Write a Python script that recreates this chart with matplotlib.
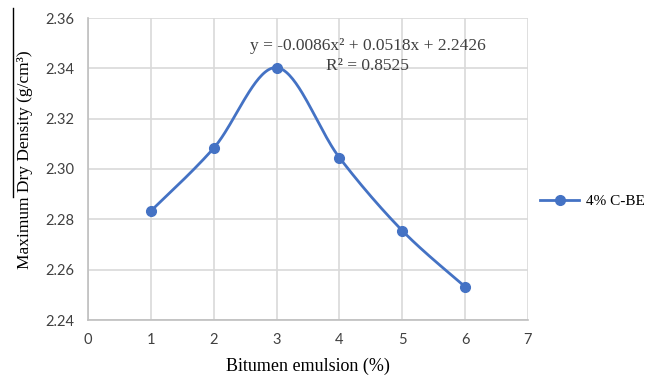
import numpy as np
import matplotlib
matplotlib.use("Agg")
import matplotlib.pyplot as plt
from matplotlib.lines import Line2D

# Data
bitumen = [1, 2, 3, 4, 5, 6]
mdd = [2.2833, 2.3083, 2.3403, 2.3045, 2.2755, 2.2532]
series_name = "4% C-BE"
equation = "y = -0.0086x² + 0.0518x + 2.2426"
r2_text = "R² = 0.8525"
x_ticks = [0, 1, 2, 3, 4, 5, 6, 7]
y_ticks = [2.24, 2.26, 2.28, 2.30, 2.32, 2.34, 2.36]

blue = "#4472C4"
serif = ["Liberation Serif", "DejaVu Serif"]
tickfont = ["Lato", "DejaVu Sans"]

def smooth(xs, ys, n=40):
    # Excel-like smoothed line (Catmull-Rom style Bezier segments)
    xs = np.asarray(xs, float); ys = np.asarray(ys, float)
    P = np.column_stack([xs, ys])
    out = [P[0]]
    m = len(P)
    for i in range(m - 1):
        p0 = P[i - 1] if i > 0 else P[i]
        p1 = P[i]; p2 = P[i + 1]
        p3 = P[i + 2] if i + 2 < m else P[i + 1]
        c1 = p1 + (p2 - p0) / 6.0
        c2 = p2 - (p3 - p1) / 6.0
        t = np.linspace(0, 1, n)[1:, None]
        seg = ((1 - t) ** 3) * p1 + 3 * ((1 - t) ** 2) * t * c1 + 3 * (1 - t) * t ** 2 * c2 + t ** 3 * p2
        out.extend(seg)
    out = np.array(out)
    return out[:, 0], out[:, 1]

fig = plt.figure(figsize=(6.67, 3.8), dpi=100)
ax = fig.add_axes([88 / 667, 1 - 320 / 380, 440 / 667, 302 / 380])

sx, sy = smooth(bitumen, mdd)
ax.plot(sx, sy, color=blue, lw=2.0, solid_capstyle="round", zorder=3)
ax.plot(bitumen, mdd, "o", color=blue, ms=7, zorder=4)

ax.set_xlim(0, 7)
ax.set_ylim(2.24, 2.36)
ax.set_xticks(x_ticks)
ax.set_yticks(y_ticks)
ax.set_xticklabels([str(v) for v in x_ticks], fontfamily=tickfont, fontsize=10.5, color="#404040")
ax.set_yticklabels([f"{v:.2f}" for v in y_ticks], fontfamily=tickfont, fontsize=10.5, color="#404040")
ax.tick_params(length=0, pad=9)
ax.tick_params(axis="y", pad=10)
ax.grid(True, color="#d9d9d9", lw=1.2)
ax.set_axisbelow(True)
for s in ["top", "right"]:
    ax.spines[s].set_visible(False)
for s in ["left", "bottom"]:
    ax.spines[s].set_color("#bfbfbf")
    ax.spines[s].set_linewidth(1.2)

fig.text(308 / 667, 1 - 366 / 380, "Bitumen emulsion (%)", fontfamily=serif, fontsize=13,
         ha="center", va="center")
fig.text(25 / 667, 1 - 160 / 380, "Maximum Dry Density (g/cm³)", fontfamily=serif, fontsize=12.5,
         ha="center", va="center", rotation=90)

ax.text(4.45, 2.3489, equation, fontfamily=serif, fontsize=12.5, color="#404040", ha="center", va="center")
ax.text(4.45, 2.3408, r2_text, fontfamily=serif, fontsize=12.5, color="#404040", ha="center", va="center")

# stray vertical rule at the left of the y label
fig.add_artist(Line2D([13 / 667, 13 / 667], [1 - 8 / 380, 1 - 197 / 380], color="black", lw=1.0))

handle = Line2D([], [], color=blue, lw=2.0, marker="o", ms=7)
fig.legend([handle], [series_name], loc="center left", bbox_to_anchor=(526 / 667, 1 - 201 / 380),
           frameon=False, prop={"family": serif, "size": 11}, handlelength=2.6, handletextpad=0.4)

fig.savefig("out.png", dpi=100)
